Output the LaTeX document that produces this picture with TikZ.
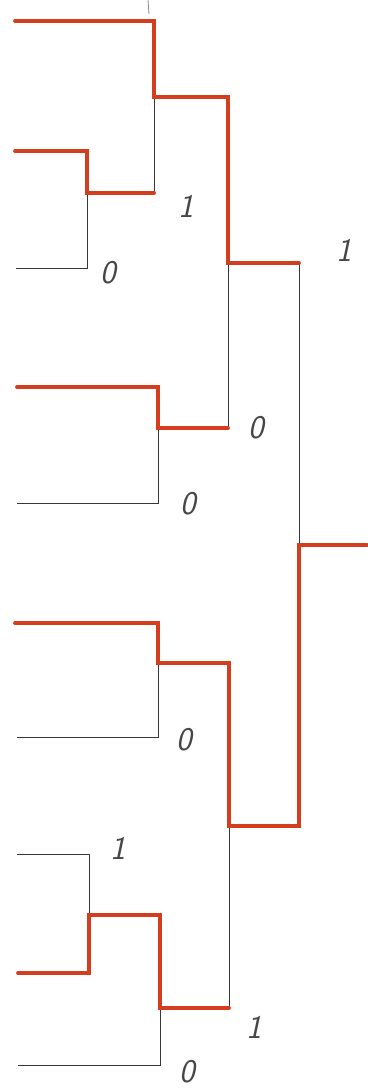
\documentclass[tikz,border=0pt]{standalone}
\usepackage{xcolor}
\definecolor{winred}{RGB}{212,62,30}
\definecolor{inkgray}{RGB}{55,55,55}
\definecolor{penlabel}{RGB}{70,70,70}
\begin{document}
\begin{tikzpicture}[x=1pt,y=-1pt,
  thinline/.style={draw=inkgray,line width=0.8pt},
  redline/.style={draw=winred,line width=3.8pt,line cap=round,line join=miter},
  lab/.style={font=\fontsize{33}{33}\selectfont\sffamily\slshape,text=penlabel,inner sep=0pt}]
\useasboundingbox (0,0) rectangle (367,1091);
% coordinates
\coordinate (stA) at (148,0);
\coordinate (stB) at (149,14);
\coordinate (a1) at (15,21);
\coordinate (a1c) at (154,21);
\coordinate (m1o) at (154,97);
\coordinate (m1b) at (154,193);
\coordinate (b1) at (15,151);
\coordinate (b1c) at (87,151);
\coordinate (b2) at (16,268);
\coordinate (b2c) at (87,268);
\coordinate (bo) at (87,193);
\coordinate (m3t) at (228,97);
\coordinate (m3o) at (228,263);
\coordinate (m3b) at (228,428);
\coordinate (c1) at (17,387);
\coordinate (c1c) at (158,387);
\coordinate (co) at (158,428);
\coordinate (c2) at (17,503);
\coordinate (c2c) at (158,503);
\coordinate (ft) at (299,263);
\coordinate (fo) at (299,545);
\coordinate (fb) at (299,826);
\coordinate (champ) at (367,545);
\coordinate (d1) at (15,623);
\coordinate (d1c) at (158,623);
\coordinate (do) at (158,663);
\coordinate (d2) at (17,737);
\coordinate (d2c) at (158,737);
\coordinate (m4t) at (229,663);
\coordinate (m4o) at (229,826);
\coordinate (m4b) at (229,1008);
\coordinate (e1) at (17,854);
\coordinate (e1c) at (89,854);
\coordinate (eo) at (89,915);
\coordinate (e2) at (18,973);
\coordinate (e2c) at (89,973);
\coordinate (m5t) at (160,915);
\coordinate (m5o) at (160,1008);
\coordinate (f2) at (18,1065);
\coordinate (f2c) at (160,1065);
% thin bracket lines
\draw[thinline,draw=inkgray!60] (stA) -- (stB);
\draw[thinline] (m1o) -- (m1b);
\draw[thinline] (bo) -- (b2c) -- (b2);
\draw[thinline] (m3o) -- (m3b);
\draw[thinline] (co) -- (c2c) -- (c2);
\draw[thinline] (ft) -- (fo);
\draw[thinline] (do) -- (d2c) -- (d2);
\draw[thinline] (m4o) -- (m4b);
\draw[thinline] (e1) -- (e1c) -- (eo);
\draw[thinline] (m5o) -- (f2c) -- (f2);
% winner paths
\draw[redline] (a1) -- (a1c) -- (m1o) -- (m3t) -- (m3o) -- (ft);
\draw[redline] (b1) -- (b1c) -- (bo) -- (m1b);
\draw[redline] (c1) -- (c1c) -- (co) -- (m3b);
\draw[redline] (d1) -- (d1c) -- (do) -- (m4t) -- (m4o) -- (fb) -- (fo) -- (champ);
\draw[redline] (e2) -- (e2c) -- (eo) -- (m5t) -- (m5o) -- (m4b);
% labels
\node[lab] (l1) at (186,206) {1};
\node[lab] (l2) at (108,273) {0};
\node[lab] (l3) at (344,250) {1};
\node[lab] (l4) at (256,428) {0};
\node[lab] (l5) at (188,504) {0};
\node[lab] (l6) at (184,740) {0};
\node[lab] (l7) at (118,848) {1};
\node[lab] (l8) at (254,1027) {1};
\node[lab] (l9) at (187,1072) {0};
\end{tikzpicture}
\end{document}
